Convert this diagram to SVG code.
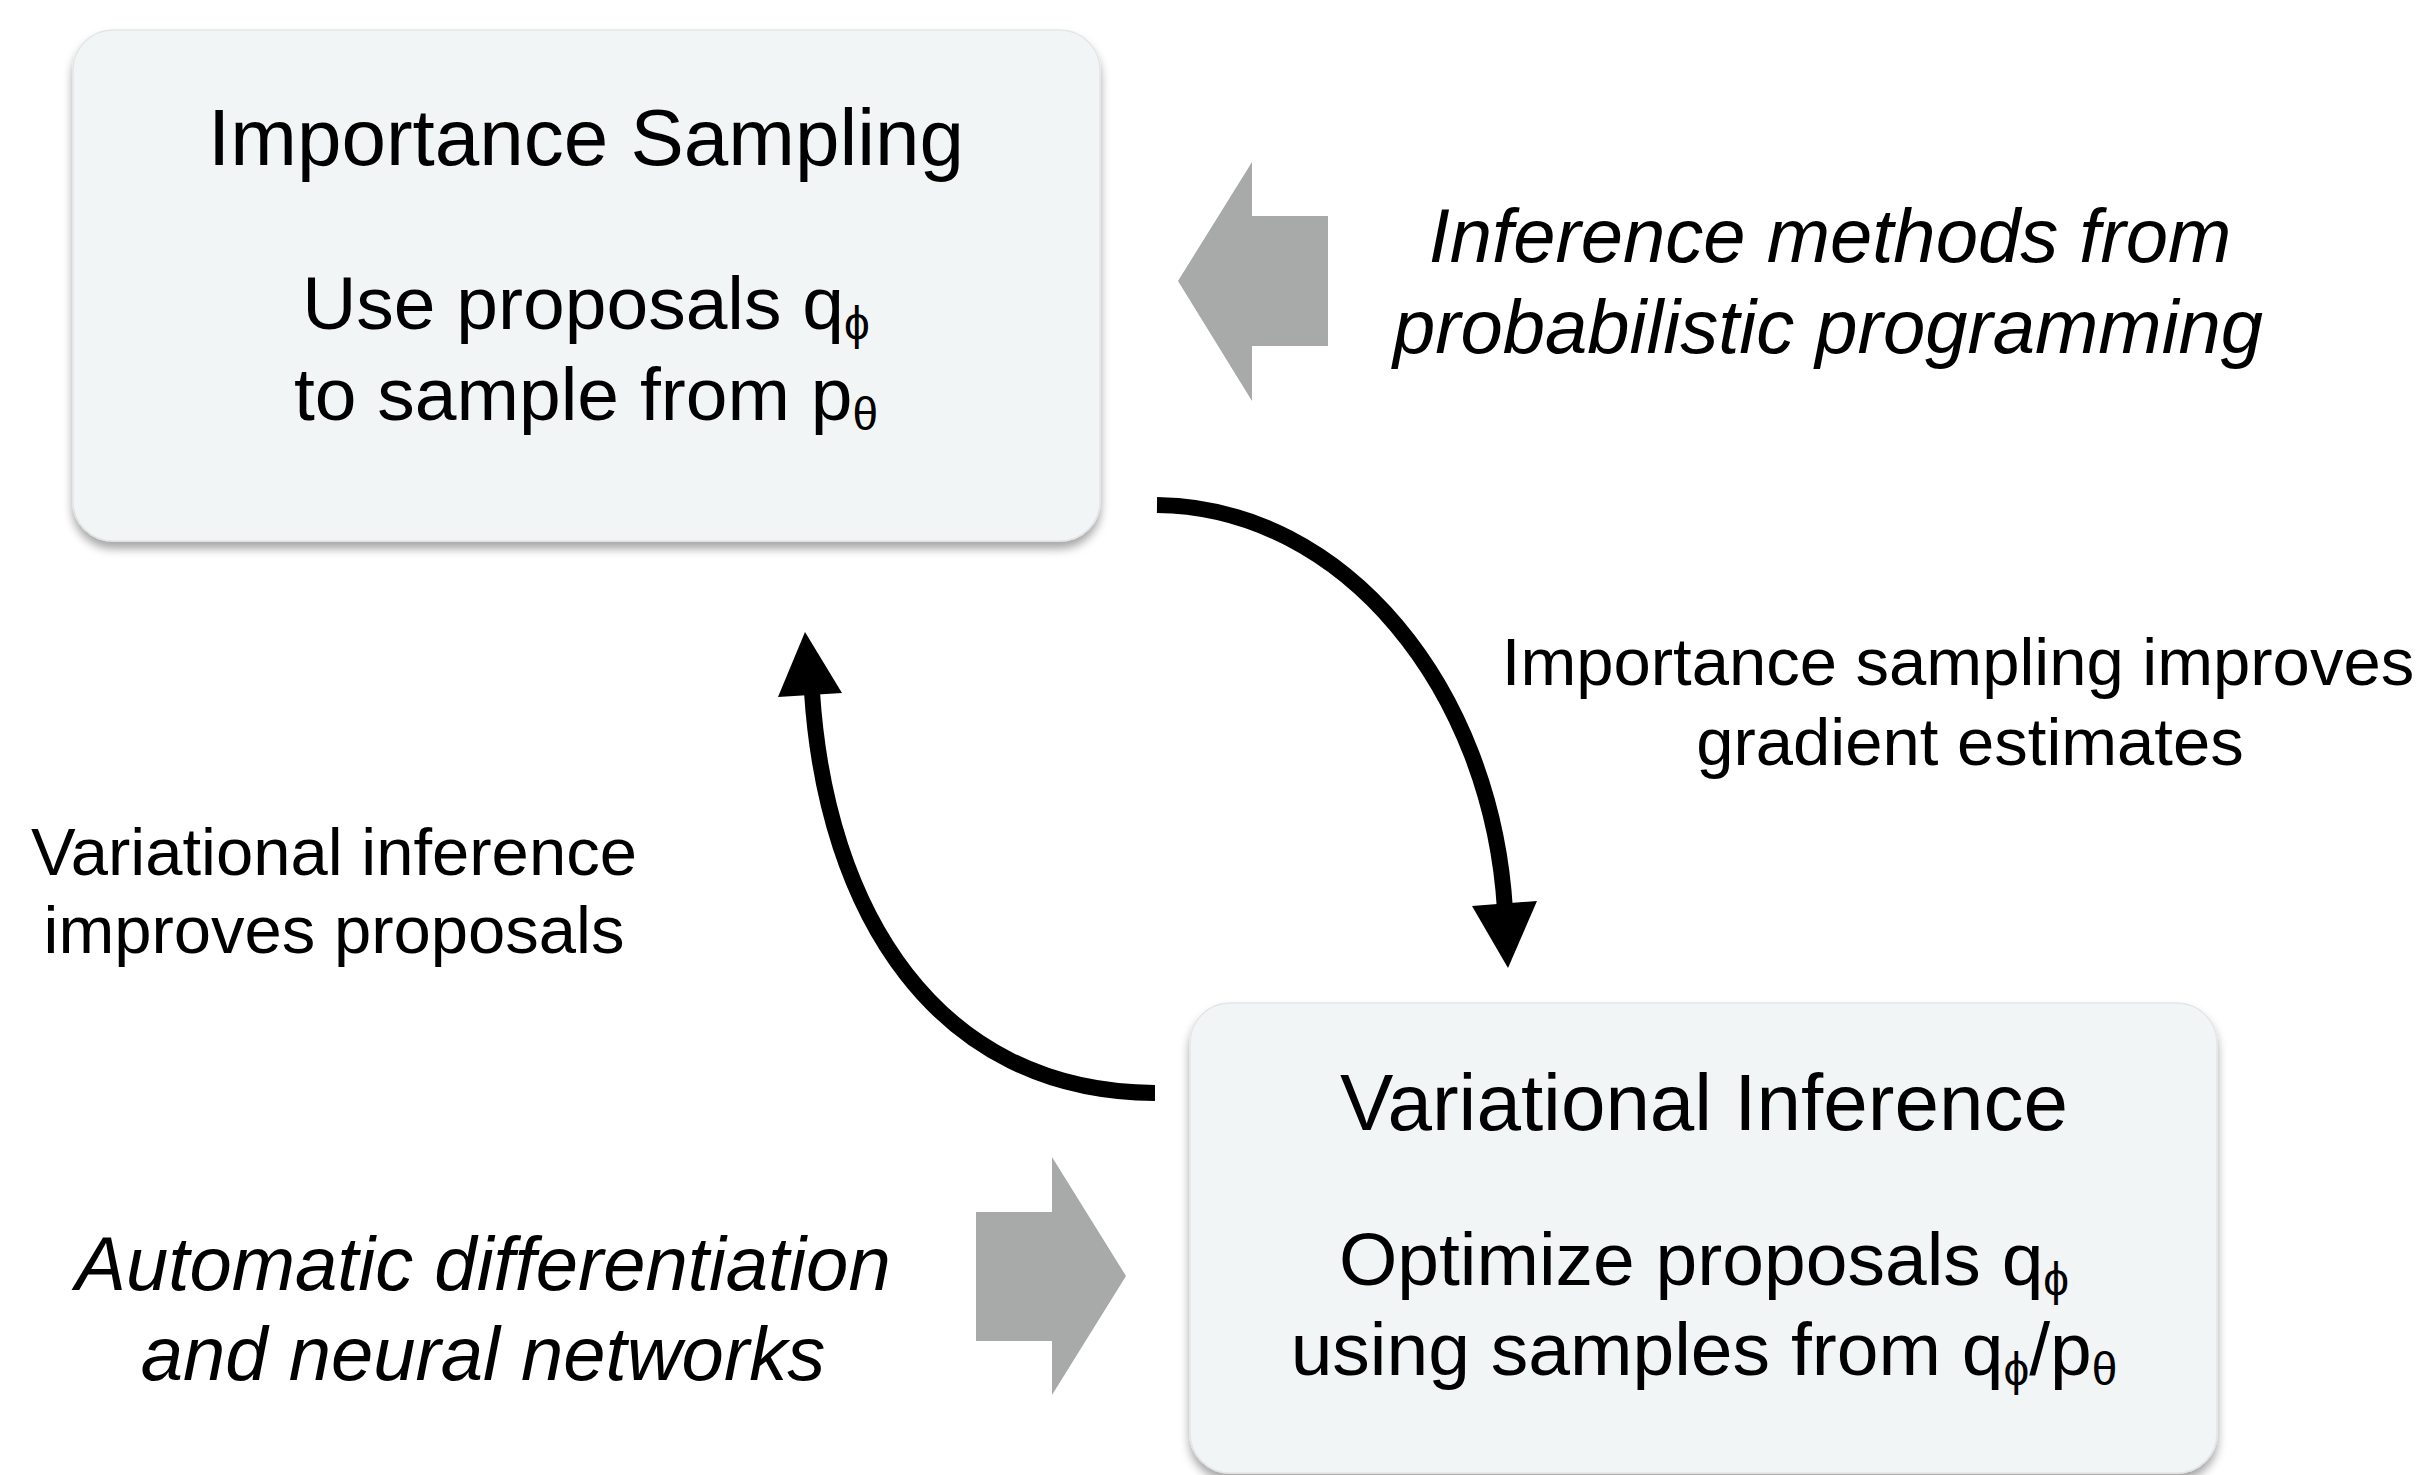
<svg xmlns="http://www.w3.org/2000/svg" width="2436" height="1475" viewBox="0 0 2436 1475">
<defs>
<filter id="shadow" x="-5%" y="-5%" width="110%" height="115%">
<feDropShadow dx="0" dy="7" stdDeviation="5" flood-color="#000" flood-opacity="0.35"/>
</filter>
<style>
.box{fill:#f2f5f6;stroke:#e3e6e7;stroke-width:1.5;filter:url(#shadow)}
.t{font-family:"Liberation Sans",Arial,sans-serif;fill:#000;text-anchor:middle}
.title{font-size:80px}
.body{font-size:75px}
.lbl{font-size:67px}
.it{font-size:76px;font-style:italic}
.sub{font-size:46px}
.curve{fill:none;stroke:#000;stroke-width:16}
.gray{fill:#a7aaa9}
</style>
</defs>
<rect width="2436" height="1475" fill="#fff"/>

<g id="node-importance-sampling">
<rect class="box" x="73" y="30" width="1027" height="511" rx="40"/>
<text class="t title" x="586" y="165">Importance Sampling</text>
<text class="t body" x="586" y="329">Use proposals q<tspan class="sub" dy="10">ϕ</tspan></text>
<text class="t body" x="586" y="420">to sample from p<tspan class="sub" dy="10">θ</tspan></text>
</g>

<g id="node-variational-inference">
<rect class="box" x="1190" y="1003" width="1027" height="470" rx="40"/>
<text class="t title" x="1704" y="1130">Variational Inference</text>
<text class="t body" x="1704" y="1285">Optimize proposals q<tspan class="sub" dy="10">ϕ</tspan></text>
<text class="t body" x="1704" y="1375">using samples from q<tspan class="sub" dy="10">ϕ</tspan><tspan dy="-10">/p</tspan><tspan class="sub" dy="10">θ</tspan></text>
</g>

<g id="node-ppl">
<polygon class="gray" points="1178,281 1252,162 1252,216 1328,216 1328,346 1252,346 1252,401"/>
<text class="t it" x="1830" y="262">Inference methods from</text>
<text class="t it" x="1828" y="353">probabilistic programming</text>
</g>

<g id="node-autodiff">
<polygon class="gray" points="1126,1276 1052,1157 1052,1212 976,1212 976,1341 1052,1341 1052,1395"/>
<text class="t it" x="483" y="1290">Automatic differentiation</text>
<text class="t it" x="483" y="1380">and neural networks</text>
</g>

<g id="connectors">
<path class="curve" d="M1157,505 C1345,507 1492,690 1505,910"/>
<polygon points="1472,906 1537,901 1508,968" fill="#000"/>
<text class="t lbl" x="1958" y="685">Importance sampling improves</text>
<text class="t lbl" x="1970" y="765">gradient estimates</text>

<path class="curve" d="M1155,1093 C935,1092 826,910 812,692"/>
<polygon points="778,697 842,693 805,632" fill="#000"/>
<text class="t lbl" x="334" y="875">Variational inference</text>
<text class="t lbl" x="334" y="953">improves proposals</text>
</g>
</svg>
